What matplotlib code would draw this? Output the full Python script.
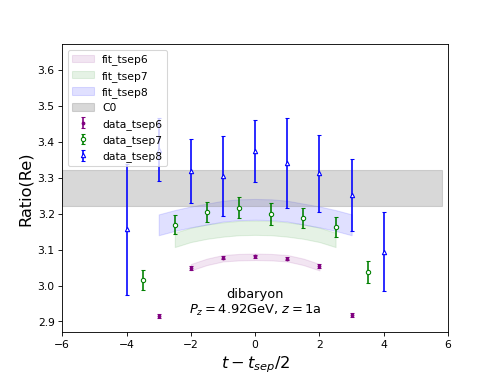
import numpy as np
import matplotlib
matplotlib.use("Agg")
import matplotlib.pyplot as plt

# data points
t6 = [-3, -2, -1, 0, 1, 2, 3]
r6 = [2.916, 3.049, 3.078, 3.081, 3.075, 3.054, 2.918]
e6 = [0.005, 0.005, 0.005, 0.005, 0.005, 0.005, 0.005]

t7 = [-3.5, -2.5, -1.5, -0.5, 0.5, 1.5, 2.5, 3.5]
r7 = [3.015, 3.169, 3.205, 3.217, 3.199, 3.188, 3.163, 3.038]
e7 = [0.028, 0.026, 0.027, 0.030, 0.030, 0.028, 0.028, 0.031]

t8 = [-4, -3, -2, -1, 0, 1, 2, 3, 4]
r8 = [3.156, 3.378, 3.319, 3.305, 3.374, 3.341, 3.312, 3.251, 3.094]
e8 = [0.183, 0.087, 0.090, 0.112, 0.086, 0.124, 0.107, 0.100, 0.110]

# fit bands
ft6 = [-2, -1.5, -1, -0.5, 0, 0.5, 1, 1.5, 2]
fc6 = [3.051, 3.066, 3.076, 3.079, 3.080, 3.079, 3.076, 3.066, 3.051]
fe6 = [0.009] * 9

ft7 = [-2.5, -2, -1.5, -1, -0.5, 0, 0.5, 1, 1.5, 2, 2.5]
fc7 = [3.127, 3.141, 3.150, 3.156, 3.160, 3.161, 3.160, 3.156, 3.150, 3.141, 3.127]
fe7 = [0.020] * 11

ft8 = [-3, -2.5, -2, -1.5, -1, -0.5, 0, 0.5, 1, 1.5, 2, 2.5, 3]
fc8 = [3.169, 3.181, 3.191, 3.199, 3.207, 3.211, 3.212, 3.211, 3.207, 3.199, 3.191, 3.181, 3.169]
fe8 = [0.029] * 13

c0_x = [-6, 5.8]
c0_val = 3.272
c0_err = 0.050

fig, ax = plt.subplots(figsize=(6.4, 4.8), dpi=77.8)

def band(x, c, e, **kw):
    c = np.array(c); e = np.array(e)
    return ax.fill_between(x, c - e, c + e, **kw)

band(ft6, fc6, fe6, color='purple', alpha=0.1, label='fit_tsep6')
band(ft7, fc7, fe7, color='green', alpha=0.1, label='fit_tsep7')
band(ft8, fc8, fe8, color='blue', alpha=0.12, label='fit_tsep8')
ax.fill_between(c0_x, [c0_val - c0_err] * 2, [c0_val + c0_err] * 2,
                color='grey', alpha=0.3, label='C0')

ax.errorbar(t6, r6, yerr=e6, fmt='o', color='purple', ms=2.5, capsize=1.5,
            label='data_tsep6')
ax.errorbar(t7, r7, yerr=e7, fmt='o', color='green', mfc='white', ms=4,
            capsize=1.5, label='data_tsep7')
ax.errorbar(t8, r8, yerr=e8, fmt='^', color='blue', mfc='white', ms=4,
            capsize=1.5, label='data_tsep8')

ax.text(0, 2.952, 'dibaryon\n$P_z = 4.92$GeV, $z = 1$a', ha='center',
        va='center', fontsize=12)

ax.set_xlim(-6, 6)
ax.set_ylim(2.871, 3.671)
ax.set_xlabel('$t - t_{sep}/2$', fontsize=15)
ax.set_ylabel('Ratio(Re)', fontsize=15)
ax.legend(loc='upper left', fontsize=10)

fig.savefig('out.png', dpi=77.8)
